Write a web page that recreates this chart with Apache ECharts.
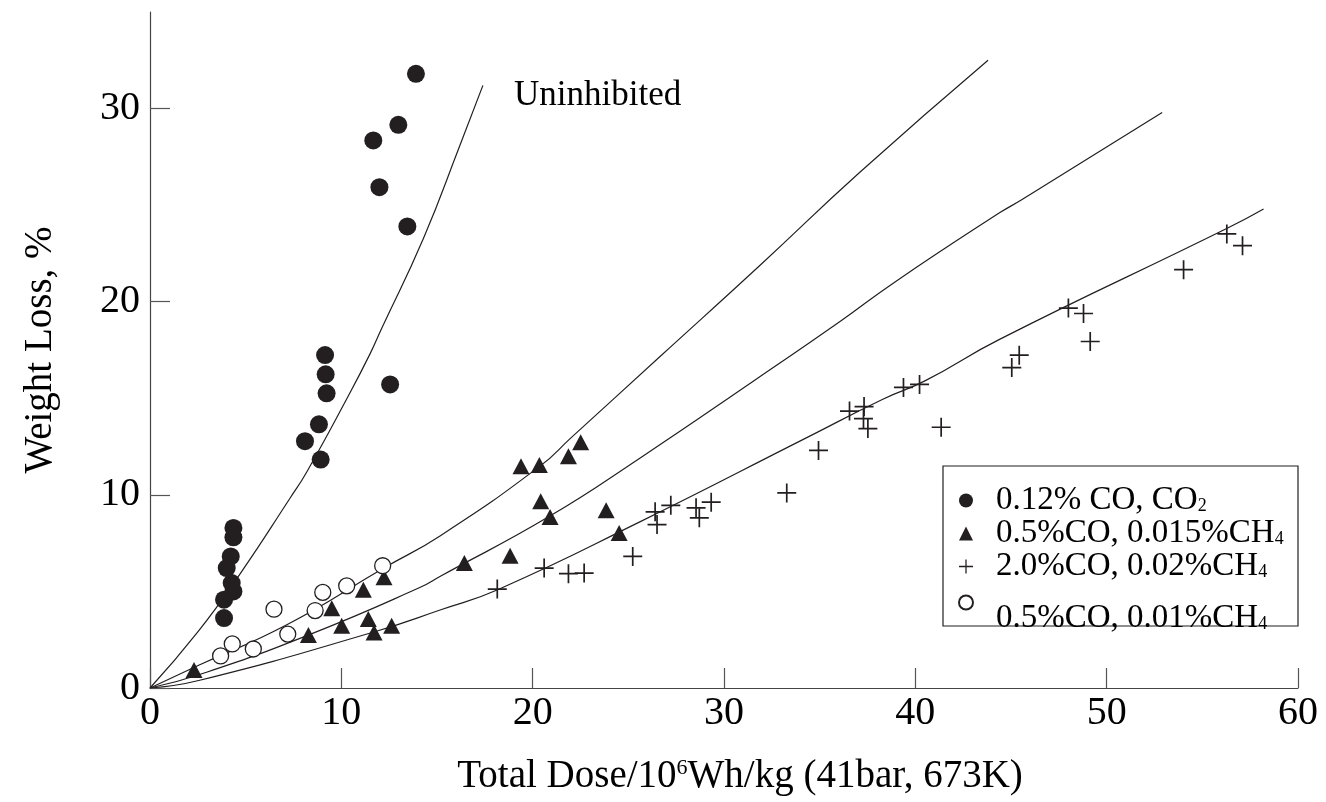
<!DOCTYPE html>
<html>
<head>
<meta charset="utf-8">
<script src="https://cdn.jsdelivr.net/npm/echarts@6/dist/echarts.min.js"></script>
<style>
  html, body { margin: 0; padding: 0; background: #fff; }
  #chart { width: 1326px; height: 802px; }
</style>
</head>
<body>
<div id="chart"></div>
<script>
// measured points: [dose, weight loss]
const co2Points = [
  [3.87, 3.62], [3.87, 4.57], [4.36, 5.0], [4.27, 5.43], [4.01, 6.21], [4.22, 6.81],
  [4.36, 7.8], [4.36, 8.29], [8.1, 12.78], [8.92, 11.83], [8.83, 13.65], [9.23, 15.26],
  [9.18, 16.24], [9.15, 17.24], [12.55, 15.72], [11.67, 28.35], [11.99, 25.93],
  [12.98, 29.16], [13.45, 23.9], [13.9, 31.8]
];
const ch4Points015 = [
  [2.3, 0.93], [8.28, 2.75], [9.5, 4.13], [10.02, 3.22], [11.15, 5.09], [11.41, 3.57],
  [11.71, 2.87], [12.23, 5.74], [12.63, 3.22], [16.43, 6.47], [18.82, 6.85],
  [19.39, 11.48], [20.35, 11.54], [20.42, 9.67], [20.91, 8.86], [21.87, 12.0],
  [22.51, 12.73], [23.84, 9.2], [24.52, 8.03]
];
const ch4Points02 = [
  [18.15, 5.12], [20.6, 6.21], [21.87, 5.92], [22.69, 5.95], [25.23, 6.81], [26.4, 9.12],
  [26.5, 8.46], [27.22, 9.46], [28.54, 9.33], [28.71, 8.81], [29.33, 9.62], [33.28, 10.1],
  [34.94, 12.3], [36.56, 14.34], [37.32, 14.57], [37.29, 13.95], [37.52, 13.43],
  [39.38, 15.56], [40.22, 15.72], [41.35, 13.5], [45.04, 16.59], [45.43, 17.23],
  [48.0, 19.67], [48.79, 19.39], [49.14, 17.94], [54.02, 21.66], [56.28, 23.51], [57.1, 22.9]
];
const ch4Points01 = [
  [3.69, 1.66], [4.3, 2.28], [5.4, 2.02], [6.48, 4.08], [7.2, 2.79], [8.63, 4.01],
  [9.03, 4.95], [10.28, 5.29], [12.16, 6.33]
];

// fitted curves
const curveUninhibited = [
  [0, 0], [2.5, 2.9], [4.7, 5.9], [7.3, 9.8], [8.2, 11.2], [10.3, 15.0], [11.5, 17.3],
  [12.1, 18.6], [14.3, 23.3], [16.2, 28.1], [17.4, 31.2]
];
const curveUpper = [
  [0, 0], [2.6, 1.2], [7.2, 3.3], [12.2, 6.2], [15.2, 7.9], [20.4, 11.5], [22.0, 12.95],
  [26.7, 17.2], [31.9, 21.9], [37.1, 26.7], [43.8, 32.5]
];
const curveMiddle = [
  [0, 0], [2.6, 0.7], [8.3, 2.75], [14.1, 5.2], [15.2, 5.8], [20.9, 8.9], [25.6, 11.9],
  [31.7, 16.0], [36.1, 19.0], [38.9, 21.0], [44.4, 24.6], [45.6, 25.3], [52.9, 29.8]
];
const curveLower = [
  [0, 0], [2.6, 0.4], [11.7, 2.9], [15.2, 4.05], [18.2, 5.1], [25.6, 8.6], [34.3, 12.95],
  [38.3, 14.95], [40.5, 15.9], [44.4, 18.05], [56.3, 23.8], [58.2, 24.8]
];

const xTicks = [0, 10, 20, 30, 40, 50, 60];
const yTicks = [0, 10, 20, 30];

const seriesNames = ['co2', 'ch4_015', 'ch4_02', 'ch4_01'];
const legendText = {
  co2: '{t|0.12% CO, CO}{s|2}',
  ch4_015: '{t|0.5%CO, 0.015%CH}{s|4}',
  ch4_02: '{t|2.0%CO, 0.02%CH}{s|4}',
  ch4_01: '{gap|}\n{t|0.5%CO, 0.01%CH}{s|4}'
};

const ink = '#231f20';
const serif = '"Liberation Serif", "Times New Roman", serif';
const plusPath = 'path://M9.1,0h1.8v9.1h9.1v1.8h-9.1v9.1h-1.8v-9.1h-9.1v-1.8h9.1z';

const chart = echarts.init(document.getElementById('chart'));

const curveSeries = (data) => ({
  type: 'line',
  data: data,
  smooth: 0.5,
  showSymbol: false,
  silent: true,
  lineStyle: { color: ink, width: 1.2 },
  z: 1
});

chart.setOption({
  animation: false,
  backgroundColor: '#fff',
  textStyle: { fontFamily: serif },
  grid: {
    left: 150,
    right: 28,
    top: 12,
    bottom: 114,
    outerBoundsMode: 'none'
  },
  xAxis: {
    type: 'value',
    min: 0,
    max: 60,
    interval: 10,
    name: 'Total Dose/10{sup|6}Wh/kg (41bar, 673K)',
    nameLocation: 'middle',
    nameGap: 69,
    nameTextStyle: {
      fontFamily: serif,
      fontSize: 39,
      color: '#000',
      padding: [0, 0, 0, 32],
      rich: {
        sup: { fontSize: 22, verticalAlign: 'top', fontFamily: serif, color: '#000' }
      }
    },
    splitLine: { show: false },
    axisLine: { lineStyle: { color: '#444', width: 1.2 } },
    axisTick: {
      inside: true,
      length: 20,
      customValues: xTicks,
      lineStyle: { color: '#555', width: 1.2 }
    },
    axisLabel: {
      customValues: xTicks,
      margin: 5,
      fontSize: 40,
      fontFamily: serif,
      color: '#000'
    }
  },
  yAxis: {
    type: 'value',
    min: 0,
    max: 35,
    interval: 10,
    name: 'Weight Loss, %',
    nameLocation: 'middle',
    nameGap: 90,
    nameTextStyle: { fontFamily: serif, fontSize: 39, color: '#000' },
    splitLine: { show: false },
    axisLine: { show: true, lineStyle: { color: '#444', width: 1.2 } },
    axisTick: {
      show: true,
      inside: true,
      length: 20,
      customValues: yTicks,
      lineStyle: { color: '#555', width: 1.2 }
    },
    axisLabel: {
      customValues: yTicks,
      margin: 10,
      fontSize: 40,
      fontFamily: serif,
      color: '#000'
    }
  },
  legend: {
    data: seriesNames,
    orient: 'vertical',
    left: 958,
    top: 484,
    itemWidth: 14,
    itemHeight: 14,
    itemGap: 0,
    padding: 0,
    selectedMode: false,
    formatter: (name) => legendText[name],
    textStyle: {
      fontFamily: serif,
      fontSize: 33,
      color: '#000',
      padding: [0, 0, 0, 18],
      rich: {
        t: { fontFamily: serif, fontSize: 33, lineHeight: 29, verticalAlign: 'middle', color: '#000' },
        s: { fontFamily: serif, fontSize: 18, lineHeight: 9, verticalAlign: 'bottom', color: '#000' },
        gap: { fontSize: 10, lineHeight: 32 }
      }
    }
  },
  graphic: [
    {
      type: 'rect',
      shape: { x: 943, y: 466, width: 355, height: 160 },
      style: { fill: 'none', stroke: ink, lineWidth: 1.2 },
      z: 0,
      silent: true
    },
    {
      type: 'text',
      left: 514,
      top: 78,
      style: { text: 'Uninhibited', font: '35px ' + serif, fill: '#000' },
      silent: true
    }
  ],
  series: [
    curveSeries(curveUninhibited),
    curveSeries(curveUpper),
    curveSeries(curveMiddle),
    curveSeries(curveLower),
    {
      name: 'co2',
      type: 'scatter',
      data: co2Points,
      symbol: 'circle',
      symbolSize: 18,
      itemStyle: { color: ink, opacity: 1 },
      z: 3
    },
    {
      name: 'ch4_015',
      type: 'scatter',
      data: ch4Points015,
      symbol: 'triangle',
      symbolSize: [17, 16],
      itemStyle: { color: ink, opacity: 1 },
      z: 3
    },
    {
      name: 'ch4_02',
      type: 'scatter',
      data: ch4Points02,
      symbol: plusPath,
      symbolSize: 19,
      itemStyle: { color: ink, opacity: 1 },
      z: 3
    },
    {
      name: 'ch4_01',
      type: 'scatter',
      data: ch4Points01,
      symbol: 'circle',
      symbolSize: 16,
      itemStyle: { color: '#fff', borderColor: ink, borderWidth: 1.3, opacity: 1 },
      z: 3
    }
  ]
});

window.addEventListener('resize', () => chart.resize());
</script>
</body>
</html>
